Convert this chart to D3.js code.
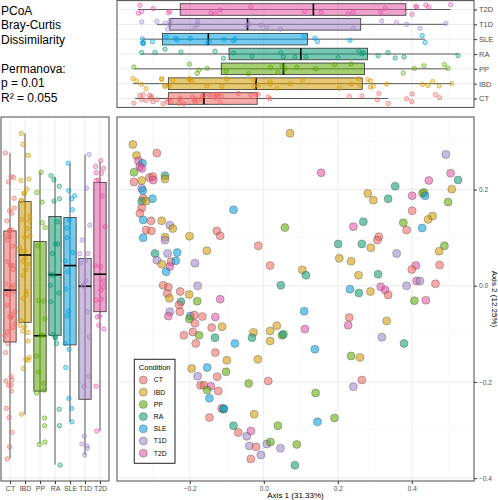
<!DOCTYPE html>
<html><head><meta charset="utf-8">
<script src="https://cdn.jsdelivr.net/npm/d3@7"></script>
<style>body{margin:0;background:#fff;} svg{display:block;font-family:"Liberation Sans",Arial,Helvetica,sans-serif;}</style>
</head><body><svg id="c" width="498" height="500"></svg>
<script>
// ---------- DATA ----------
const categories = ["CT","IBD","PP","RA","SLE","T1D","T2D"];
const palette = ["#F06762","#D29B00","#5CA800","#0A9A72","#00A0DF","#A085C6","#E353A3"];
const infoLines = ["PCoA","Bray-Curtis","Dissimilarity","","Permanova:","p = 0.01","R\u00B2 = 0.055"];
const xTitle = "Axis 1 (31.33%)";
const yTitle = "Axis 2 (12.25%)";
const legendTitle = "Condition";
const xTicks = [-0.2, 0, 0.2, 0.4];
const xMinor = [-0.3, -0.1, 0.1, 0.3, 0.5];
const yTicks = [-0.4, -0.2, 0, 0.2];
const yMinor = [-0.3, -0.1, 0.1, 0.3];

// Box statistics (order = categories) for Axis 1 (top panel)
const ax1Low    = [-0.348,-0.353,-0.350,-0.330,-0.330,-0.289,-0.340];
const ax1Q1     = [-0.258,-0.258,-0.115,-0.094,-0.274,-0.254,-0.226];
const ax1Median = [-0.162,-0.021, 0.053, 0.100,-0.150,-0.044, 0.134];
const ax1Q3     = [-0.018, 0.266, 0.272, 0.280, 0.118, 0.262, 0.384];
const ax1High   = [ 0.336, 0.508, 0.497, 0.526, 0.436, 0.494, 0.505];
// Box statistics for Axis 2 (left panel)
const ax2Low    = [-0.359,-0.268,-0.328,-0.372,-0.283,-0.352,-0.302];
const ax2Q1     = [-0.117,-0.076,-0.219,-0.103,-0.123,-0.236,-0.054];
const ax2Median = [-0.009, 0.064,-0.104, 0.023, 0.042,-0.001, 0.024];
const ax2Q3     = [ 0.114, 0.175, 0.092, 0.144, 0.142, 0.057, 0.215];
const ax2High   = [ 0.276, 0.317, 0.236, 0.227, 0.255, 0.273, 0.258];

// Samples
const pointCondition = [
"IBD","CT","IBD","T2D","SLE","T2D","T2D","PP","CT","IBD","CT","CT","T2D","RA","IBD","T1D","SLE","IBD","CT","SLE",
"RA","IBD","CT","CT","SLE","CT","IBD","CT","CT","SLE","T1D","IBD","IBD","T1D","IBD","SLE","CT","CT","PP","CT",
"IBD","RA","T1D","SLE","T1D","CT","SLE","IBD","T2D","SLE","T1D","CT","IBD","RA","RA","CT","CT","T1D","CT","CT",
"IBD","IBD","RA","PP","T2D","SLE","T2D","T1D","T2D","RA","T2D","RA","IBD","IBD","IBD","RA","T2D","IBD","PP","SLE",
"PP","CT","IBD","IBD","PP","CT","SLE","T2D","RA","CT","CT","IBD","RA","RA","PP","IBD","T1D","IBD","IBD","T2D",
"CT","CT","IBD","RA","T2D","T1D","T1D","CT","T2D","T2D","CT","SLE","RA","IBD","PP","T2D","T2D","CT","T2D","IBD",
"T1D","RA","SLE","PP","IBD","CT","T1D","PP","PP","SLE","PP","CT","CT","T1D","T2D","SLE","PP","CT","CT","T2D",
"CT","CT","IBD","CT","CT","PP","RA","CT","SLE","IBD","RA","IBD","IBD","IBD","PP","RA","CT","IBD","IBD","IBD",
"SLE","T1D","CT","PP","CT","PP","CT","CT","T2D","PP","CT","SLE","CT","RA","SLE","CT","IBD","RA","CT","T1D",
"T2D","PP","T1D","CT","T1D","PP","T1D","T1D","CT","RA"];
const axis1 = [
-0.354,-0.289,-0.344,-0.339,-0.328,-0.335,-0.330,-0.351,-0.351,-0.330,-0.309,-0.300,-0.299,-0.267,-0.267,-0.330,-0.327,0.071,-0.326,-0.301,
-0.330,-0.318,-0.330,-0.335,-0.326,-0.305,-0.276,-0.318,-0.304,-0.326,-0.254,-0.246,-0.267,-0.267,-0.201,-0.082,-0.127,-0.118,0.057,-0.015,
-0.154,-0.294,-0.260,-0.234,-0.289,-0.251,-0.238,-0.276,-0.254,-0.264,-0.186,0.017,0.104,0.114,0.046,-0.272,-0.258,-0.179,-0.261,-0.226,
-0.202,-0.255,-0.224,-0.180,-0.118,0.109,0.155,0.492,0.505,0.525,0.446,0.355,0.508,0.281,0.296,0.336,0.401,0.429,0.433,0.436,
0.498,0.401,0.444,0.456,0.377,0.386,0.428,0.242,0.269,0.311,0.307,0.289,0.201,0.265,0.488,0.474,0.359,0.204,0.236,0.411,
0.400,0.475,0.256,0.309,0.413,0.422,0.386,0.464,0.316,0.328,0.336,0.233,0.257,0.288,0.407,0.438,0.111,0.231,0.228,0.332,
0.319,0.379,0.138,0.236,0.260,0.265,0.242,0.140,0.191,0.145,0.089,-0.229,-0.227,-0.254,-0.258,-0.199,-0.201,-0.188,-0.166,-0.131,
-0.186,-0.141,-0.113,-0.192,-0.216,-0.175,-0.132,-0.184,-0.078,-0.028,-0.032,0.017,0.035,0.017,0.049,0.053,-0.131,-0.100,-0.016,-0.195,
-0.153,-0.179,-0.126,-0.102,0.012,-0.041,-0.171,-0.162,-0.143,-0.153,-0.123,-0.147,-0.114,-0.109,-0.108,-0.147,-0.026,-0.082,-0.069,-0.046,
-0.035,0.038,-0.039,-0.021,0.008,0.018,0.045,-0.008,-0.035,0.084];
const axis2 = [
0.294,0.276,0.271,0.260,0.255,0.248,0.244,0.236,0.216,0.219,0.225,0.227,0.220,0.229,0.222,0.203,0.198,0.317,0.182,0.181,
0.176,0.176,0.162,0.151,0.137,0.135,0.135,0.116,0.114,0.100,0.126,0.119,0.101,0.095,0.103,0.158,0.114,0.104,0.121,0.083,
0.073,0.067,0.067,0.069,0.053,0.050,0.052,0.045,0.040,0.029,0.047,0.042,0.033,0.022,0.001,0.001,-0.003,0.000,-0.016,-0.012,
-0.018,-0.026,-0.033,-0.032,-0.028,-0.053,0.235,0.273,0.234,0.220,0.219,0.207,0.201,0.192,0.178,0.181,0.187,0.192,0.194,0.187,
0.174,0.156,0.138,0.145,0.131,0.116,0.120,0.123,0.133,0.102,0.095,0.079,0.087,0.087,0.083,0.072,0.067,0.057,0.051,0.042,
0.034,0.043,0.022,0.024,0.010,0.010,0.000,0.004,-0.002,-0.009,-0.019,-0.007,-0.015,-0.012,-0.031,-0.030,-0.090,-0.066,-0.082,-0.073,
-0.107,-0.120,-0.132,-0.146,-0.149,-0.196,-0.210,-0.223,-0.275,-0.283,-0.330,-0.040,-0.054,-0.054,-0.063,-0.063,-0.069,-0.061,-0.064,-0.065,
-0.078,-0.087,-0.085,-0.096,-0.103,-0.103,-0.108,-0.120,-0.120,-0.097,-0.108,-0.094,-0.083,-0.115,-0.103,-0.101,-0.139,-0.155,-0.153,-0.172,
-0.170,-0.188,-0.189,-0.179,-0.198,-0.203,-0.207,-0.207,-0.209,-0.217,-0.219,-0.234,-0.255,-0.257,-0.255,-0.274,-0.267,-0.291,-0.305,-0.313,
-0.302,-0.291,-0.333,-0.335,-0.329,-0.325,-0.338,-0.352,-0.360,-0.373];

// ---------- DRAW ----------
const svg = d3.select("#c");
const color = d3.scaleOrdinal().domain(categories).range(palette);
const fmt = d3.format(".1f");
const points = pointCondition.map((c, i) => ({c, x: axis1[i], y: axis2[i], i}));

const P = {l:117, r:474, t:117, b:481};      // main panel
const T = {t:0.6, b:107.4};                   // top panel vertical extent
const L = {l:1, r:109};                       // left panel horizontal extent

const x = d3.scaleLinear().domain([-0.3968, 0.5681]).range([P.l, P.r]);
const y = d3.scaleLinear().domain([-0.406, 0.351]).range([P.b, P.t]);
const yTop = d3.scalePoint().domain(categories.slice().reverse()).range([T.t, T.b]).padding(0.6);
const xLeft = d3.scalePoint().domain(categories).range([L.l, L.r]).padding(0.6);

const gridMajor = "#ebebeb", gridMinor = "#f4f4f4", border = "#4a4a4a", txt = "#4d4d4d";

function jitterA(i){ return ((i * 0.6180339887) % 1) - 0.5; }
function jitterB(i){ return ((i * 0.7548776662 + 0.31) % 1) - 0.5; }

// ---- info text
svg.append("g").selectAll("text").data(infoLines).join("text")
  .attr("x", 1).attr("y", (d, i) => 14.5 + i * 14.5)
  .attr("font-size", 12).attr("fill", "#000").text(d => d);

// ---- TOP PANEL (Axis 1 by condition)
const gT = svg.append("g");
gT.append("rect").attr("x", P.l).attr("y", T.t).attr("width", P.r - P.l).attr("height", T.b - T.t).attr("fill", "#fff");
gT.selectAll(".vmin").data(xMinor).join("line")
  .attr("x1", d => x(d)).attr("x2", d => x(d)).attr("y1", T.t).attr("y2", T.b)
  .attr("stroke", gridMinor).attr("stroke-width", 0.6);
gT.selectAll(".vmaj").data(xTicks).join("line")
  .attr("x1", d => x(d)).attr("x2", d => x(d)).attr("y1", T.t).attr("y2", T.b)
  .attr("stroke", gridMajor).attr("stroke-width", 1);
gT.selectAll(".hmaj").data(categories).join("line")
  .attr("x1", P.l).attr("x2", P.r).attr("y1", d => yTop(d)).attr("y2", d => yTop(d))
  .attr("stroke", gridMajor).attr("stroke-width", 1);
const bhT = yTop.step() * 0.78;
categories.forEach((c, k) => {
  const cy = yTop(c);
  gT.append("line").attr("x1", x(ax1Low[k])).attr("x2", x(ax1High[k])).attr("y1", cy).attr("y2", cy)
    .attr("stroke", "#333").attr("stroke-width", 0.8);
  gT.append("rect").attr("x", x(ax1Q1[k])).attr("y", cy - bhT/2).attr("width", x(ax1Q3[k]) - x(ax1Q1[k])).attr("height", bhT)
    .attr("fill", palette[k]).attr("fill-opacity", 0.55).attr("stroke", "#333").attr("stroke-width", 0.8);
  gT.append("line").attr("x1", x(ax1Median[k])).attr("x2", x(ax1Median[k])).attr("y1", cy - bhT/2).attr("y2", cy + bhT/2)
    .attr("stroke", "#000").attr("stroke-width", 1.6);
});
gT.selectAll("circle").data(points).join("circle")
  .attr("cx", d => x(d.x)).attr("cy", d => yTop(d.c) + jitterA(d.i) * yTop.step() * 0.7)
  .attr("r", 2.2).attr("fill", d => color(d.c)).attr("fill-opacity", 0.3)
  .attr("stroke", d => color(d.c)).attr("stroke-opacity", 0.85).attr("stroke-width", 0.7);
gT.append("rect").attr("x", P.l).attr("y", T.t).attr("width", P.r - P.l).attr("height", T.b - T.t)
  .attr("fill", "none").attr("stroke", border).attr("stroke-width", 1);
const axT = gT.append("g").attr("transform", `translate(${P.r},0)`).call(d3.axisRight(yTop).tickSize(3).tickPadding(2));
axT.select(".domain").remove();
axT.selectAll("line").attr("stroke", "#333");
axT.selectAll("text").attr("font-size", 7.5).attr("fill", txt).attr("font-family", "Liberation Sans, Arial, sans-serif");

// ---- LEFT PANEL (Axis 2 by condition)
const gL = svg.append("g");
gL.append("rect").attr("x", L.l).attr("y", P.t).attr("width", L.r - L.l).attr("height", P.b - P.t).attr("fill", "#fff");
gL.selectAll(".hmin").data(yMinor).join("line")
  .attr("x1", L.l).attr("x2", L.r).attr("y1", d => y(d)).attr("y2", d => y(d))
  .attr("stroke", gridMinor).attr("stroke-width", 0.6);
gL.selectAll(".hmaj").data(yTicks).join("line")
  .attr("x1", L.l).attr("x2", L.r).attr("y1", d => y(d)).attr("y2", d => y(d))
  .attr("stroke", gridMajor).attr("stroke-width", 1);
gL.selectAll(".vmaj").data(categories).join("line")
  .attr("x1", d => xLeft(d)).attr("x2", d => xLeft(d)).attr("y1", P.t).attr("y2", P.b)
  .attr("stroke", gridMajor).attr("stroke-width", 1);
const bwL = xLeft.step() * 0.82;
categories.forEach((c, k) => {
  const cx = xLeft(c);
  gL.append("line").attr("x1", cx).attr("x2", cx).attr("y1", y(ax2Low[k])).attr("y2", y(ax2High[k]))
    .attr("stroke", "#333").attr("stroke-width", 0.8);
  gL.append("rect").attr("x", cx - bwL/2).attr("y", y(ax2Q3[k])).attr("width", bwL).attr("height", y(ax2Q1[k]) - y(ax2Q3[k]))
    .attr("fill", palette[k]).attr("fill-opacity", 0.55).attr("stroke", "#333").attr("stroke-width", 0.8);
  gL.append("line").attr("x1", cx - bwL/2).attr("x2", cx + bwL/2).attr("y1", y(ax2Median[k])).attr("y2", y(ax2Median[k]))
    .attr("stroke", "#000").attr("stroke-width", 1.6);
});
gL.selectAll("circle").data(points).join("circle")
  .attr("cx", d => xLeft(d.c) + jitterB(d.i) * xLeft.step() * 0.7).attr("cy", d => y(d.y))
  .attr("r", 2.2).attr("fill", d => color(d.c)).attr("fill-opacity", 0.3)
  .attr("stroke", d => color(d.c)).attr("stroke-opacity", 0.85).attr("stroke-width", 0.7);
gL.append("rect").attr("x", L.l).attr("y", P.t).attr("width", L.r - L.l).attr("height", P.b - P.t)
  .attr("fill", "none").attr("stroke", border).attr("stroke-width", 1);
const axL = gL.append("g").attr("transform", `translate(0,${P.b})`).call(d3.axisBottom(xLeft).tickSize(3).tickPadding(2));
axL.select(".domain").remove();
axL.selectAll("line").attr("stroke", "#333");
axL.selectAll("text").attr("font-size", 7).attr("fill", txt).attr("font-family", "Liberation Sans, Arial, sans-serif");

// ---- MAIN SCATTER
const gM = svg.append("g");
gM.selectAll(".vmin").data(xMinor).join("line")
  .attr("x1", d => x(d)).attr("x2", d => x(d)).attr("y1", P.t).attr("y2", P.b)
  .attr("stroke", gridMinor).attr("stroke-width", 0.6);
gM.selectAll(".hmin").data(yMinor).join("line")
  .attr("x1", P.l).attr("x2", P.r).attr("y1", d => y(d)).attr("y2", d => y(d))
  .attr("stroke", gridMinor).attr("stroke-width", 0.6);
gM.selectAll(".vmaj").data(xTicks).join("line")
  .attr("x1", d => x(d)).attr("x2", d => x(d)).attr("y1", P.t).attr("y2", P.b)
  .attr("stroke", gridMajor).attr("stroke-width", 1);
gM.selectAll(".hmaj").data(yTicks).join("line")
  .attr("x1", P.l).attr("x2", P.r).attr("y1", d => y(d)).attr("y2", d => y(d))
  .attr("stroke", gridMajor).attr("stroke-width", 1);
gM.selectAll("circle").data(points).join("circle")
  .attr("cx", d => x(d.x)).attr("cy", d => y(d.y)).attr("r", 4)
  .attr("fill", d => color(d.c)).attr("fill-opacity", 0.57)
  .attr("stroke", "#444").attr("stroke-opacity", 0.5).attr("stroke-width", 0.7);
gM.append("rect").attr("x", P.l).attr("y", P.t).attr("width", P.r - P.l).attr("height", P.b - P.t)
  .attr("fill", "none").attr("stroke", border).attr("stroke-width", 1);
const axX = gM.append("g").attr("transform", `translate(0,${P.b})`)
  .call(d3.axisBottom(x).tickValues(xTicks).tickFormat(fmt).tickSize(3).tickPadding(2));
axX.select(".domain").remove();
axX.selectAll("line").attr("stroke", "#333");
axX.selectAll("text").attr("font-size", 6.5).attr("fill", txt).attr("font-family", "Liberation Sans, Arial, sans-serif");
const axY = gM.append("g").attr("transform", `translate(${P.r},0)`)
  .call(d3.axisRight(y).tickValues(yTicks).tickFormat(fmt).tickSize(3).tickPadding(2));
axY.select(".domain").remove();
axY.selectAll("line").attr("stroke", "#333");
axY.selectAll("text").attr("font-size", 6.5).attr("fill", txt).attr("font-family", "Liberation Sans, Arial, sans-serif");
gM.append("text").attr("x", (P.l + P.r) / 2).attr("y", 498).attr("text-anchor", "middle")
  .attr("font-size", 8).attr("fill", "#000").text(xTitle);
gM.append("text").attr("transform", `translate(491.5,${(P.t + P.b) / 2}) rotate(90)`).attr("text-anchor", "middle")
  .attr("font-size", 8).attr("fill", "#000").text(yTitle);

// ---- LEGEND
const lg = svg.append("g").attr("transform", "translate(134.3,359.3)");
lg.append("rect").attr("width", 40.7).attr("height", 104).attr("fill", "#fff").attr("stroke", "#222").attr("stroke-width", 1);
lg.append("text").attr("x", 4.5).attr("y", 10.3).attr("font-size", 7.5).attr("fill", "#000").text(legendTitle);
const li = lg.selectAll(".li").data(categories).join("g").attr("transform", (d, i) => `translate(9,${20.7 + i * 12.2})`);
li.append("circle").attr("r", 4).attr("fill", d => color(d)).attr("fill-opacity", 0.57)
  .attr("stroke", "#444").attr("stroke-opacity", 0.5).attr("stroke-width", 0.7);
li.append("text").attr("x", 10.5).attr("y", 2.3).attr("font-size", 6.8).attr("fill", "#000").text(d => d);
</script></body></html>
